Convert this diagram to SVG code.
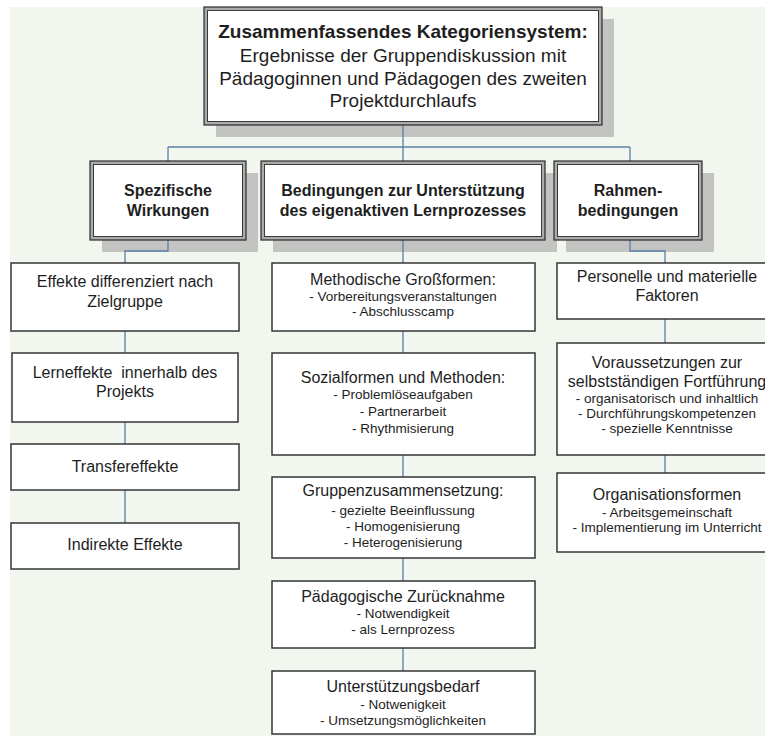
<svg xmlns="http://www.w3.org/2000/svg" width="765" height="736" viewBox="0 0 765 736">
  <style>
    text { font-family: "Liberation Sans", Arial, sans-serif; fill: #1e1e1e; text-anchor: middle; }
    .h0 { font-size: 19px; }
    .b0 { font-size: 19px; font-weight: bold; }
    .h1 { font-size: 16px; font-weight: bold; }
    .t { font-size: 16px; }
    .s { font-size: 13.5px; }
    .shadow { fill: #c3c4c2; }
    .frame-out { fill: #ababab; stroke: #2b2b2b; stroke-width: 1.2; }
    .frame-in { fill: #ffffff; stroke: #3a3a3a; stroke-width: 1; }
    .box { fill: #ffffff; stroke: #363636; stroke-width: 1.5; }
    .conn { fill: none; stroke: #5b7fa6; stroke-width: 1.3; }
  </style>

  <!-- page background -->
  <rect x="10" y="7" width="755" height="729" fill="#f1f6ee"/>

  <!-- drop shadows of the framed header boxes -->
  <g id="shadows">
    <rect class="shadow" x="216" y="19" width="398" height="118"/>
    <rect class="shadow" x="102" y="173" width="156" height="79"/>
    <rect class="shadow" x="273" y="173" width="284" height="79"/>
    <rect class="shadow" x="566" y="173" width="148" height="79"/>
  </g>

  <!-- connectors -->
  <g id="connectors">
    <path class="conn" d="M403 125 V147"/>
    <path class="conn" d="M168 147 H630"/>
    <path class="conn" d="M168 147 V161 M403 147 V161 M630 147 V161"/>
    <!-- left column -->
    <path class="conn" d="M168 240 V251 H125 V263"/>
    <path class="conn" d="M125 331 V353 M125 422 V444 M125 490 V523"/>
    <!-- middle column -->
    <path class="conn" d="M403 240 V263 M403 331 V353 M403 455 V477 M403 558 V581 M403 648 V671"/>
    <!-- right column -->
    <path class="conn" d="M630 240 V251 H665 V263"/>
    <path class="conn" d="M665 319 V343 M665 455 V473"/>
  </g>

  <!-- root -->
  <g id="root">
    <rect class="frame-out" x="204" y="7" width="398" height="118"/>
    <rect class="frame-in" x="207.5" y="10.5" width="391" height="111"/>
    <text class="b0" x="403" y="38">Zusammenfassendes Kategoriensystem:</text>
    <text class="h0" x="403" y="62">Ergebnisse der Gruppendiskussion mit</text>
    <text class="h0" x="403" y="85">Pädagoginnen und Pädagogen des zweiten</text>
    <text class="h0" x="403" y="107">Projektdurchlaufs</text>
  </g>

  <!-- second level -->
  <g id="wirkungen">
    <rect class="frame-out" x="90" y="161" width="156" height="79"/>
    <rect class="frame-in" x="93.5" y="164.5" width="149" height="72"/>
    <text class="h1" x="168" y="196">Spezifische</text>
    <text class="h1" x="168" y="216">Wirkungen</text>
  </g>
  <g id="bedingungen">
    <rect class="frame-out" x="261" y="161" width="284" height="79"/>
    <rect class="frame-in" x="264.5" y="164.5" width="277" height="72"/>
    <text class="h1" x="403" y="196">Bedingungen zur Unterstützung</text>
    <text class="h1" x="403" y="216">des eigenaktiven Lernprozesses</text>
  </g>
  <g id="rahmen">
    <rect class="frame-out" x="554" y="161" width="148" height="79"/>
    <rect class="frame-in" x="557.5" y="164.5" width="141" height="72"/>
    <text class="h1" x="628" y="196">Rahmen-</text>
    <text class="h1" x="628" y="216">bedingungen</text>
  </g>

  <!-- left column -->
  <g id="effekte-zielgruppe">
    <rect class="box" x="11" y="263" width="228" height="68"/>
    <text class="t" x="125" y="287">Effekte differenziert nach</text>
    <text class="t" x="125" y="307">Zielgruppe</text>
  </g>
  <g id="lerneffekte">
    <rect class="box" x="12" y="353" width="226" height="69"/>
    <text class="t" x="125" y="378" xml:space="preserve">Lerneffekte  innerhalb des</text>
    <text class="t" x="125" y="397">Projekts</text>
  </g>
  <g id="transfereffekte">
    <rect class="box" x="11" y="444" width="228" height="46"/>
    <text class="t" x="125" y="472">Transfereffekte</text>
  </g>
  <g id="indirekte-effekte">
    <rect class="box" x="11" y="523" width="228" height="46"/>
    <text class="t" x="125" y="550">Indirekte Effekte</text>
  </g>

  <!-- middle column -->
  <g id="grossformen">
    <rect class="box" x="272" y="263" width="263" height="68"/>
    <text class="t" x="403" y="285">Methodische Großformen:</text>
    <text class="s" x="403" y="301">- Vorbereitungsveranstaltungen</text>
    <text class="s" x="403" y="316">- Abschlusscamp</text>
  </g>
  <g id="sozialformen">
    <rect class="box" x="272" y="353" width="263" height="102"/>
    <text class="t" x="403" y="383">Sozialformen und Methoden:</text>
    <text class="s" x="403" y="399">- Problemlöseaufgaben</text>
    <text class="s" x="403" y="416">- Partnerarbeit</text>
    <text class="s" x="403" y="433">- Rhythmisierung</text>
  </g>
  <g id="gruppen">
    <rect class="box" x="272" y="477" width="263" height="81"/>
    <text class="t" x="403" y="496">Gruppenzusammensetzung:</text>
    <text class="s" x="403" y="515">- gezielte Beeinflussung</text>
    <text class="s" x="403" y="531">- Homogenisierung</text>
    <text class="s" x="403" y="547">- Heterogenisierung</text>
  </g>
  <g id="zuruecknahme">
    <rect class="box" x="272" y="581" width="263" height="67"/>
    <text class="t" x="403" y="602">Pädagogische Zurücknahme</text>
    <text class="s" x="403" y="618">- Notwendigkeit</text>
    <text class="s" x="403" y="634">- als Lernprozess</text>
  </g>
  <g id="unterstuetzung">
    <rect class="box" x="272" y="671" width="263" height="63"/>
    <text class="t" x="403" y="692">Unterstützungsbedarf</text>
    <text class="s" x="403" y="709">- Notwenigkeit</text>
    <text class="s" x="403" y="725">- Umsetzungsmöglichkeiten</text>
  </g>

  <!-- right column -->
  <g id="faktoren">
    <rect class="box" x="557" y="263" width="216" height="56"/>
    <text class="t" x="667" y="282">Personelle und materielle</text>
    <text class="t" x="667" y="301">Faktoren</text>
  </g>
  <g id="fortfuehrung">
    <rect class="box" x="557" y="343" width="216" height="112"/>
    <text class="t" x="667" y="368">Voraussetzungen zur</text>
    <text class="t" x="667" y="387">selbstständigen Fortführung</text>
    <text class="s" x="667" y="403">- organisatorisch und inhaltlich</text>
    <text class="s" x="667" y="418">- Durchführungskompetenzen</text>
    <text class="s" x="667" y="433">- spezielle Kenntnisse</text>
  </g>
  <g id="organisationsformen">
    <rect class="box" x="557" y="473" width="216" height="79"/>
    <text class="t" x="667" y="500">Organisationsformen</text>
    <text class="s" x="667" y="517">- Arbeitsgemeinschaft</text>
    <text class="s" x="667" y="532">- Implementierung im Unterricht</text>
  </g>
</svg>
